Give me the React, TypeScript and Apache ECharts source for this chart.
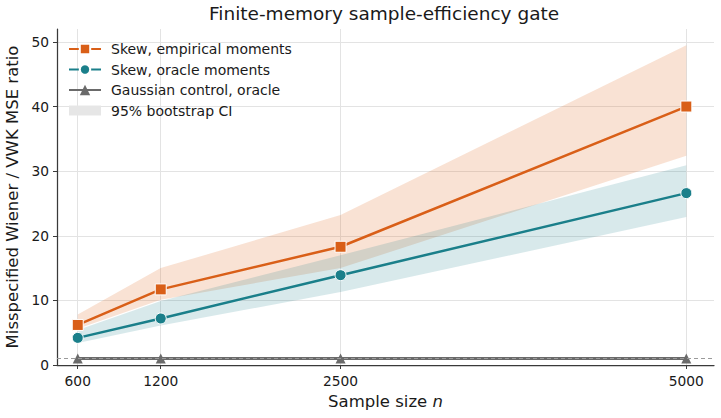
import React, { useEffect, useRef } from "react";
import * as echarts from "echarts";

// Sample sizes on the x axis
const sampleSizes = [600, 1200, 2500, 5000];
const xTicks = [600, 1200, 2500, 5000];
const yTicks = [0, 10, 20, 30, 40, 50];

// Misspecified Wiener / VWK MSE ratios
const empiricalRatio = [6.2, 11.7, 18.3, 40.0];
const oracleRatio = [4.2, 7.2, 13.9, 26.6];
const gaussianRatio = [1.0, 1.0, 1.0, 1.0];

// 95% bootstrap confidence bands
const empiricalLo = [5.6, 10.1, 15.0, 32.4];
const empiricalHi = [7.8, 15.0, 23.2, 49.5];
const oracleLo = [3.4, 6.1, 11.3, 22.9];
const oracleHi = [5.4, 9.9, 17.0, 30.9];

const ORANGE = "#d95f18";
const TEAL = "#1a7f8a";
const GRAY = "#6a6a6a";
const INK = "#1a1a1a";
const FONT = "DejaVu Sans";

function bandSeries(lo: number[], hi: number[], fill: string) {
  return {
    type: "custom",
    name: "95% bootstrap CI",
    z: 2,
    silent: true,
    encode: { x: 0, y: [1, 2] },
    data: sampleSizes.map((x, i) => [x, lo[i], hi[i]]),
    renderItem: (params: any, api: any) => {
      if (params.dataIndex !== 0) return null;
      const upper = sampleSizes.map((x, i) => api.coord([x, hi[i]]));
      const lower = sampleSizes.map((x, i) => api.coord([x, lo[i]])).reverse();
      return {
        type: "polygon",
        shape: { points: upper.concat(lower) },
        style: { fill },
      };
    },
  };
}

export default function App() {
  const ref = useRef<HTMLDivElement>(null);

  useEffect(() => {
    document.body.style.margin = "0";
    if (!ref.current) return;
    const chart = echarts.init(ref.current, null, { renderer: "svg" });

    const lineCommon = {
      type: "line",
      z: 3,
      lineStyle: { width: 2.5 },
      itemStyle: { borderColor: "#ffffff", borderWidth: 1 },
    };

    chart.setOption({
      animation: false,
      textStyle: { fontFamily: FONT, color: INK },
      title: {
        text: "Finite-memory sample-efficiency gate",
        left: 209,
        top: 0,
        padding: [4, 0, 0, 0],
        textStyle: { fontFamily: FONT, fontSize: 18.5, fontWeight: "normal", color: INK },
      },
      legend: {
        orient: "vertical",
        left: 63,
        top: 37,
        itemWidth: 32,
        itemHeight: 13,
        itemGap: 6.5,
        textStyle: { fontFamily: FONT, fontSize: 14, color: INK, padding: [0, 0, 0, 5] },
        data: [
          "Skew, empirical moments",
          "Skew, oracle moments",
          "Gaussian control, oracle",
          {
            name: "95% bootstrap CI",
            icon: "path://M0,0H32V10H0Z",
            itemStyle: { color: "#e6e6e6" },
          },
        ],
      },
      grid: { left: 57, right: 7, top: 29, bottom: 53, outerBoundsMode: "none", containLabel: false },
      xAxis: {
        type: "value",
        min: 450,
        max: 5200,
        name: "Sample size {i|n}",
        nameLocation: "middle",
        nameGap: 26,
        nameTextStyle: {
          fontFamily: FONT,
          fontSize: 16.5,
          color: INK,
          rich: { i: { fontStyle: "italic", fontFamily: FONT, fontSize: 16.5, color: INK } },
        },
        axisLine: { show: true, lineStyle: { color: "#3a3a3a", width: 1.25 } },
        axisTick: { show: true, length: 4, lineStyle: { color: "#3a3a3a", width: 1 }, customValues: xTicks },
        axisLabel: {
          fontFamily: FONT,
          fontSize: 13.8,
          color: INK,
          margin: 9,
          customValues: xTicks,
          formatter: (v: number) => String(v),
        },
        splitLine: { show: true, lineStyle: { color: "#e3e3e3", width: 1 } },
      },
      yAxis: {
        type: "value",
        min: 0,
        max: 52,
        name: "Misspecified Wiener / VWK MSE ratio",
        nameLocation: "middle",
        nameGap: 36,
        nameTextStyle: { fontFamily: FONT, fontSize: 16.5, color: INK },
        axisLine: { show: true, lineStyle: { color: "#3a3a3a", width: 1.25 } },
        axisTick: { show: true, length: 4, lineStyle: { color: "#3a3a3a", width: 1 }, customValues: yTicks },
        axisLabel: {
          fontFamily: FONT,
          fontSize: 13.8,
          color: INK,
          margin: 8,
          customValues: yTicks,
          formatter: (v: number) => String(v),
        },
        splitLine: { show: true, lineStyle: { color: "#e3e3e3", width: 1 } },
      },
      series: [
        {
          type: "line",
          name: "reference",
          z: 1,
          silent: true,
          data: [],
          markLine: {
            silent: true,
            symbol: "none",
            label: { show: false },
            lineStyle: { color: "#9a9a9a", type: [4, 3], width: 1 },
            data: [{ yAxis: 1 }],
          },
        },
        bandSeries(empiricalLo, empiricalHi, "rgba(226, 110, 40, 0.2)"),
        bandSeries(oracleLo, oracleHi, "rgba(26, 127, 138, 0.17)"),
        {
          ...lineCommon,
          name: "Skew, empirical moments",
          color: ORANGE,
          symbol: "rect",
          symbolSize: 11,
          data: sampleSizes.map((x, i) => [x, empiricalRatio[i]]),
        },
        {
          ...lineCommon,
          name: "Skew, oracle moments",
          color: TEAL,
          symbol: "circle",
          symbolSize: 11,
          data: sampleSizes.map((x, i) => [x, oracleRatio[i]]),
        },
        {
          ...lineCommon,
          name: "Gaussian control, oracle",
          color: GRAY,
          symbol: "triangle",
          symbolSize: 10,
          lineStyle: { width: 3 },
          itemStyle: { borderWidth: 0 },
          data: sampleSizes.map((x, i) => [x, gaussianRatio[i]]),
        },
      ],
    });

    return () => chart.dispose();
  }, []);

  return <div ref={ref} style={{ width: 721, height: 418 }} />;
}
